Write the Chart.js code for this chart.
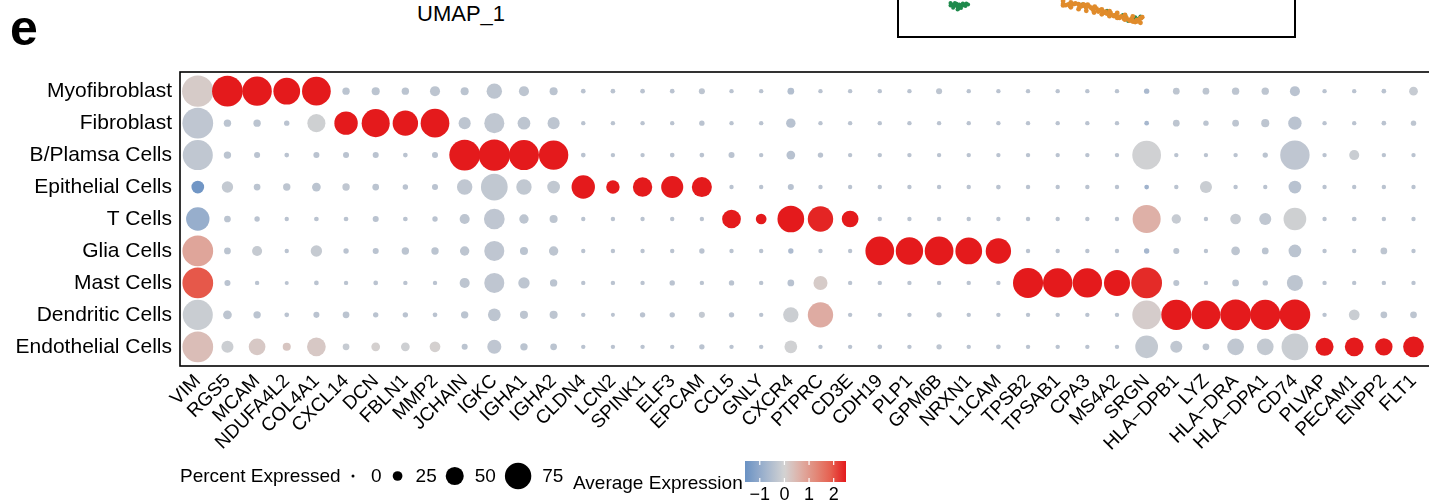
<!DOCTYPE html>
<html>
<head>
<meta charset="utf-8">
<script src="https://cdn.jsdelivr.net/npm/chart.js@4.4.1/dist/chart.umd.min.js"></script>
<style>
  html, body { margin: 0; padding: 0; background: #fff; }
  body { width: 1429px; height: 502px; overflow: hidden; position: relative; font-family: "Liberation Sans", Arial, sans-serif; }
  #wrap { position: absolute; left: 0; top: 0; width: 1447px; height: 502px; }
  #panelTag { position: absolute; left: 10px; top: -1px; font-size: 50px; font-weight: bold; color: #000; }
  #umapLabel { position: absolute; left: 417px; top: 1px; font-size: 22px; color: #000; }
  #umapBox { position: absolute; left: 897px; top: -10px; width: 395px; height: 44px; border: 2px solid #000; box-sizing: content-box; }
  #umapBox canvas { position: absolute; left: 0; top: 0; }
</style>
</head>
<body>
<div id="panelTag">e</div>
<div id="umapLabel">UMAP_1</div>
<div id="umapBox"><canvas id="umap" width="395" height="44"></canvas></div>
<div id="wrap"><canvas id="dotplot" width="1447" height="502"></canvas></div>
<script>
// cell types (rows, top to bottom) and marker genes (columns)
const cellTypes = ["Myofibroblast", "Fibroblast", "B/Plamsa Cells", "Epithelial Cells", "T Cells",
  "Glia Cells", "Mast Cells", "Dendritic Cells", "Endothelial Cells"];
const genes = ["VIM","RGS5","MCAM","NDUFA4L2","COL4A1","CXCL14","DCN","FBLN1","MMP2","JCHAIN","IGKC",
  "IGHA1","IGHA2","CLDN4","LCN2","SPINK1","ELF3","EPCAM","CCL5","GNLY","CXCR4","PTPRC","CD3E","CDH19",
  "PLP1","GPM6B","NRXN1","L1CAM","TPSB2","TPSAB1","CPA3","MS4A2","SRGN","HLA\u2212DPB1","LYZ","HLA\u2212DRA",
  "HLA\u2212DPA1","CD74","PLVAP","PECAM1","ENPP2","FLT1"];

// percent expressed, one row per cell type
const pctExp = [
  [90,88,84,76,82,18,20,18,26,20,42,26,20,10,10,10,10,14,9,9,16,9,9,9,9,14,9,9,9,9,9,9,12,16,16,18,18,26,9,9,10,22],
  [88,18,18,12,50,66,80,72,82,32,56,34,32,9,9,9,9,12,9,9,24,9,9,9,9,9,9,9,9,9,9,9,10,16,12,16,20,36,9,9,10,12],
  [86,18,14,10,14,14,14,10,14,88,90,86,84,10,9,9,10,10,14,9,22,12,9,9,9,9,9,9,9,9,9,9,82,9,9,9,12,84,9,26,9,9],
  [34,30,16,18,22,18,16,12,14,42,76,42,34,66,36,54,62,56,9,9,14,9,9,9,9,9,9,10,9,9,9,9,10,9,32,9,9,34,9,9,9,9],
  [66,16,12,9,10,10,14,10,12,26,58,24,20,9,9,9,9,9,52,28,76,72,46,9,9,9,9,9,9,9,9,9,80,24,9,28,32,64,9,10,9,9],
  [88,16,26,9,30,12,14,18,18,24,56,20,24,9,9,9,9,12,9,9,12,9,9,82,78,82,76,72,9,9,9,9,12,14,9,22,16,34,9,9,16,9],
  [88,14,9,8,10,9,10,9,9,26,56,30,18,9,9,9,12,9,12,9,16,38,9,9,9,9,9,9,86,84,84,74,88,14,9,16,12,44,9,9,9,9],
  [86,22,18,10,14,16,12,12,10,18,34,20,20,9,8,12,12,14,12,9,42,72,9,9,9,12,9,9,9,9,9,9,82,86,82,88,86,88,9,28,16,16],
  [88,32,46,20,52,16,22,22,28,14,38,18,16,9,9,9,9,12,9,9,34,9,9,10,9,12,9,10,9,9,9,9,64,32,16,46,46,76,50,52,48,58]
];

// average (scaled) expression, same layout
const avgExp = [
  [0.15,2.5,2.5,2.5,2.5,-0.38,-0.38,-0.38,-0.35,-0.38,-0.35,-0.35,-0.38,-0.4,-0.4,-0.4,-0.4,-0.35,-0.4,-0.4,-0.5,-0.4,-0.4,-0.4,-0.4,-0.35,-0.4,-0.4,-0.4,-0.4,-0.4,-0.4,-0.65,-0.35,-0.35,-0.35,-0.35,-0.4,-0.4,-0.4,-0.4,-0.2],
  [-0.32,-0.38,-0.38,-0.4,-0.08,2.5,2.5,2.5,2.5,-0.35,-0.3,-0.35,-0.35,-0.4,-0.4,-0.4,-0.4,-0.4,-0.4,-0.4,-0.42,-0.4,-0.4,-0.4,-0.4,-0.4,-0.4,-0.4,-0.4,-0.4,-0.4,-0.4,-0.7,-0.35,-0.38,-0.35,-0.35,-0.4,-0.4,-0.4,-0.4,-0.35],
  [-0.3,-0.38,-0.4,-0.4,-0.4,-0.4,-0.4,-0.4,-0.4,2.5,2.5,2.5,2.5,-0.4,-0.4,-0.4,-0.4,-0.4,-0.4,-0.4,-0.42,-0.4,-0.4,-0.4,-0.4,-0.4,-0.4,-0.4,-0.4,-0.4,-0.4,-0.4,-0.05,-0.4,-0.4,-0.4,-0.38,-0.32,-0.4,-0.15,-0.4,-0.4],
  [-1.5,-0.25,-0.38,-0.35,-0.38,-0.3,-0.38,-0.4,-0.4,-0.3,-0.28,-0.28,-0.28,2.5,2.5,2.5,2.5,2.5,-0.4,-0.4,-0.42,-0.4,-0.4,-0.4,-0.4,-0.4,-0.4,-0.4,-0.4,-0.4,-0.4,-0.4,-0.8,-0.4,-0.15,-0.4,-0.4,-0.42,-0.4,-0.4,-0.4,-0.4],
  [-0.93,-0.38,-0.4,-0.4,-0.4,-0.4,-0.4,-0.4,-0.4,-0.35,-0.32,-0.35,-0.35,-0.4,-0.4,-0.4,-0.4,-0.4,2.5,2.5,2.5,2.4,2.5,-0.4,-0.4,-0.4,-0.4,-0.4,-0.4,-0.4,-0.4,-0.4,0.62,-0.2,-0.4,-0.22,-0.3,-0.08,-0.4,-0.4,-0.4,-0.4],
  [0.8,-0.38,-0.22,-0.4,-0.22,-0.4,-0.4,-0.38,-0.38,-0.35,-0.32,-0.38,-0.35,-0.4,-0.4,-0.4,-0.4,-0.4,-0.4,-0.4,-0.6,-0.4,-0.4,2.5,2.5,2.5,2.5,2.5,-0.4,-0.4,-0.4,-0.4,-0.7,-0.38,-0.4,-0.35,-0.38,-0.38,-0.4,-0.4,-0.35,-0.4],
  [1.95,-0.4,-0.4,-0.4,-0.4,-0.4,-0.4,-0.4,-0.4,-0.35,-0.32,-0.35,-0.38,-0.4,-0.4,-0.4,-0.4,-0.4,-0.4,-0.4,-0.42,0.15,-0.4,-0.4,-0.4,-0.4,-0.4,-0.4,2.5,2.5,2.5,2.5,2.35,-0.38,-0.4,-0.38,-0.38,-0.35,-0.4,-0.4,-0.4,-0.4],
  [-0.15,-0.35,-0.38,-0.4,-0.4,-0.38,-0.4,-0.4,-0.4,-0.38,-0.35,-0.35,-0.35,-0.4,-0.4,-0.4,-0.4,-0.25,-0.4,-0.4,-0.12,0.7,-0.4,-0.4,-0.4,-0.35,-0.4,-0.4,-0.4,-0.4,-0.4,-0.4,0.12,2.5,2.5,2.5,2.5,2.5,-0.4,-0.15,-0.35,-0.35],
  [0.4,-0.12,0.2,0.25,0.2,-0.2,0.05,-0.1,0.05,-0.38,-0.32,-0.38,-0.38,-0.4,-0.4,-0.4,-0.4,-0.4,-0.4,-0.4,-0.05,-0.4,-0.4,-0.4,-0.4,-0.35,-0.4,-0.4,-0.4,-0.4,-0.4,-0.4,-0.25,-0.3,-0.35,-0.3,-0.25,-0.15,2.5,2.5,2.5,2.5]
];

// legend values
const sizeBreaks = [0, 25, 50, 75];
const colorBreaks = [-1, 0, 1, 2];
const colorLimits = [-1.6, 2.5];

// bits of the UMAP panel peeking in at the top (umap coordinates)
const umapGreenX = [-7.3,-7.2,-7.0,-6.8,-6.6,-6.9,-7.1,-6.7,-6.85,-6.5,-7.3,-6.95,-6.75,-7.05,-6.6,-6.9,-7.15,-6.4,-6.3,-6.45,
  0.2,0.35,0.45,1.6,1.75,2.5,2.65,3.2,3.4,3.0,2.8,3.5,3.3,3.55,3.1];
const umapGreenY = [-9.95,-10.05,-10.1,-10.05,-10.12,-10.22,-10.18,-10.3,-10.35,-10.06,-10.12,-10.0,-10.2,-9.95,-9.98,-10.4,-10.28,-9.98,-10.05,-10.15,
  -10.05,-10.18,-10.1,-10.5,-10.6,-10.8,-10.85,-10.95,-11.05,-11.15,-11.22,-10.9,-11.2,-11.0,-11.1];
const umapOrangeX = [-0.9,-0.6,-0.3,0.0,0.3,0.5,-0.5,0.1,0.4,0.7,1.0,0.8,1.2,1.1,1.5,1.4,1.8,1.7,2.1,2.0,2.4,2.3,2.7,2.6,3.0,2.9,3.3,3.1,3.5,3.6,
  -0.9,-0.9,-0.46,-0.46,-0.02,-0.02,0.42,0.42,0.86,0.86,1.3,1.3,1.74,1.74,2.18,2.18,2.62,2.62,3.06,3.06,3.5,3.5,
  -0.75,0.15,0.6,1.3,1.95,2.55,3.2,-0.2,0.25,0.9,1.6,2.2,2.85,3.35];
const umapOrangeY = [-10.02,-10.05,-10.03,-10.08,-10.1,-10.06,-10.15,-10.2,-10.25,-10.3,-10.35,-10.42,-10.45,-10.55,-10.55,-10.65,-10.65,-10.75,-10.78,-10.88,-10.9,-11.0,-11.0,-11.1,-11.08,-11.2,-11.15,-11.25,-11.05,-10.95,
  -9.8,-10.12,-9.9,-10.25,-10.02,-10.38,-10.15,-10.5,-10.28,-10.62,-10.4,-10.75,-10.52,-10.88,-10.65,-11.0,-10.78,-11.12,-10.9,-11.25,-11.02,-11.35,
  -10.1,-10.15,-10.2,-10.5,-10.82,-11.05,-11.3,-9.98,-10.05,-10.2,-10.7,-10.95,-11.15,-11.25];

const FONT = '"Liberation Sans", Arial, sans-serif';

// colour scale (blue - lightgrey - red)
const colorStops = [
  [-1.6, [106,146,196]],
  [-0.8, [160,179,205]],
  [0,    [211,211,211]],
  [0.625,[222,176,167]],
  [1.25, [226,138,122]],
  [1.875,[230,96,80]],
  [2.5,  [228,26,28]]
];
function expColor(v) {
  v = Math.max(colorStops[0][0], Math.min(colorStops[colorStops.length-1][0], v));
  for (let i = 1; i < colorStops.length; i++) {
    const a = colorStops[i-1], b = colorStops[i];
    if (v <= b[0]) {
      const t = (v - a[0]) / (b[0] - a[0]);
      const c = a[1].map((x, k) => Math.round(x + (b[1][k] - x) * t));
      return 'rgb(' + c.join(',') + ')';
    }
  }
  return 'rgb(228,26,28)';
}
function dotRadius(p) {
  return Math.max(1.4, 0.7 + p / 6);
}

const points = [];
cellTypes.forEach((ct, row) => {
  genes.forEach((g, col) => {
    points.push({x: col, y: row, r: dotRadius(pctExp[row][col]), v: avgExp[row][col]});
  });
});

const framePlugin = {
  id: 'frame',
  afterDraw(chart) {
    const a = chart.chartArea, ctx = chart.ctx;
    ctx.save();
    ctx.strokeStyle = '#000';
    ctx.lineWidth = 1.6;
    ctx.strokeRect(a.left, a.top, a.right - a.left, a.bottom - a.top);
    ctx.restore();
  }
};

const legendPlugin = {
  id: 'dotLegend',
  afterDraw(chart) {
    const ctx = chart.ctx;
    ctx.save();
    ctx.fillStyle = '#000';
    ctx.font = '19px ' + FONT;
    ctx.textBaseline = 'alphabetic';
    ctx.textAlign = 'left';
    ctx.fillText('Percent Expressed', 180, 482);
    let cursor = 344;
    const cy = 476;
    sizeBreaks.forEach(p => {
      const r = p === 0 ? 1.5 : dotRadius(p);
      const kw = Math.max(18, 2 * r + 4);
      ctx.beginPath();
      ctx.arc(cursor + kw / 2, cy, r, 0, Math.PI * 2);
      ctx.fill();
      const lx = cursor + kw + 9;
      ctx.fillText(String(p), lx, 482);
      cursor = lx + ctx.measureText(String(p)).width + 7;
    });

    // colour bar
    ctx.fillText('Average Expression', 573, 489);
    const bx0 = 745, bx1 = 846, by0 = 461, by1 = 482;
    const grad = ctx.createLinearGradient(bx0, 0, bx1, 0);
    for (let i = 0; i <= 40; i++) {
      const v = colorLimits[0] + (colorLimits[1] - colorLimits[0]) * i / 40;
      grad.addColorStop(i / 40, expColor(v));
    }
    ctx.fillStyle = grad;
    ctx.fillRect(bx0, by0, bx1 - bx0, by1 - by0);
    const toX = v => bx0 + (v - colorLimits[0]) / (colorLimits[1] - colorLimits[0]) * (bx1 - bx0);
    ctx.strokeStyle = '#fff';
    ctx.lineWidth = 1.2;
    ctx.fillStyle = '#000';
    ctx.font = '18px ' + FONT;
    ctx.textAlign = 'center';
    colorBreaks.forEach(b => {
      const x = toX(b);
      ctx.beginPath();
      ctx.moveTo(x, by0); ctx.lineTo(x, by0 + 4);
      ctx.moveTo(x, by1 - 4); ctx.lineTo(x, by1);
      ctx.stroke();
      ctx.fillText(b < 0 ? '\u2212' + Math.abs(b) : String(b), x, 500);
    });
    ctx.restore();
  }
};

new Chart(document.getElementById('dotplot'), {
  type: 'bubble',
  data: {
    datasets: [{
      data: points,
      backgroundColor: c => c.raw ? expColor(c.raw.v) : '#ccc',
      borderWidth: 0,
      hoverRadius: 0,
      clip: false
    }]
  },
  options: {
    responsive: false,
    animation: false,
    events: [],
    layout: {padding: {top: 72, right: 2, left: 0, bottom: 0}},
    plugins: {legend: {display: false}, tooltip: {enabled: false}},
    scales: {
      x: {
        type: 'linear', min: -0.6, max: 41.6,
        afterBuildTicks: s => { s.ticks = genes.map((g, i) => ({value: i})); },
        afterFit: s => { s.height = 136; },
        grid: {display: false, drawTicks: false},
        border: {display: false},
        ticks: {
          autoSkip: false, minRotation: 45, maxRotation: 45, padding: 4,
          color: '#000', font: {family: FONT, size: 19},
          callback: v => genes[v]
        }
      },
      y: {
        type: 'linear', reverse: true, min: -0.6, max: 8.6,
        afterBuildTicks: s => { s.ticks = cellTypes.map((c, i) => ({value: i})); },
        afterFit: s => { s.width = 180; },
        grid: {display: false, drawTicks: false},
        border: {display: false},
        ticks: {
          padding: 8, color: '#000', font: {family: FONT, size: 21},
          callback: v => cellTypes[v]
        }
      }
    }
  },
  plugins: [framePlugin, legendPlugin]
});

new Chart(document.getElementById('umap'), {
  type: 'scatter',
  data: {
    datasets: [
      {data: umapOrangeX.map((x, i) => ({x, y: umapOrangeY[i]})), backgroundColor: '#E08B2B', pointRadius: 2.4, borderWidth: 0},
      {data: umapGreenX.map((x, i) => ({x, y: umapGreenY[i]})), backgroundColor: '#1F8A4C', pointRadius: 2, borderWidth: 0}
    ]
  },
  options: {
    responsive: false, animation: false, events: [],
    layout: {padding: 0},
    plugins: {legend: {display: false}, tooltip: {enabled: false}},
    scales: {
      x: {type: 'linear', min: -10, max: 12, display: false},
      y: {type: 'linear', min: -12, max: -9.45, display: false}
    }
  }
});
</script>
</body>
</html>
